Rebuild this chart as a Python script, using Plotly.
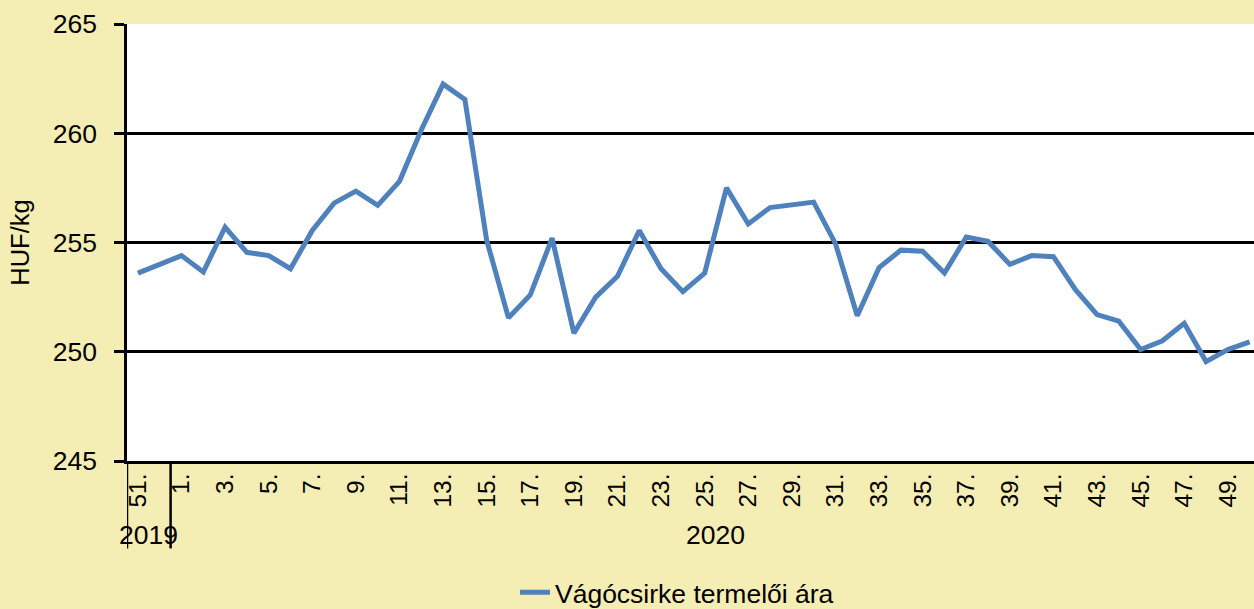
import plotly.graph_objects as go

# Week categories (2019: 51-52, 2020: 1-50)
weeks_2019 = ["51.", "52."]
weeks_2020 = [f"{i}." for i in range(1, 51)]
categories = weeks_2019 + weeks_2020
years = ["2019", "2020"]

# Vágócsirke termelői ára (HUF/kg)
prices = [
    253.6, 254.0,
    254.4, 253.65, 255.7, 254.55, 254.4, 253.8, 255.55, 256.8, 257.35, 256.7,
    257.8, 260.15, 262.25, 261.55, 255.1, 251.55, 252.6, 255.2, 250.85, 252.5,
    253.45, 255.55, 253.8, 252.75, 253.6, 257.5, 255.85, 256.6, 256.75, 256.85,
    254.95, 251.65, 253.85, 254.65, 254.6, 253.6, 255.25, 255.05, 254.0, 254.4,
    254.35, 252.85, 251.7, 251.4, 250.1, 250.5, 251.3, 249.55, 250.1, 250.45,
]

series_name = "Vágócsirke termelői ára"
y_title = "HUF/kg"

FONT = "Arial, Liberation Sans, sans-serif"
BG = "#F4EDB4"

fig = go.Figure()
fig.add_trace(go.Scatter(
    x=categories, y=prices, mode="lines", name=series_name,
    line=dict(color="#4F81BD", width=5),
))

n19 = len(weeks_2019)

fig.update_layout(
    width=1254, height=609,
    paper_bgcolor=BG, plot_bgcolor="white",
    margin=dict(l=127, r=0, t=24, b=148, autoexpand=False),
    font=dict(family=FONT, size=26, color="black"),
    showlegend=True,
    legend=dict(orientation="h", x=0.488, xanchor="center",
                yref="container", y=0.027, yanchor="middle",
                font=dict(size=26.5), bgcolor="rgba(0,0,0,0)"),
    xaxis=dict(
        type="category", categoryorder="array", categoryarray=categories,
        range=[-0.5, 51.2], automargin=False,
        tickmode="array", tickvals=categories[::2], ticktext=categories[::2],
        tickangle=-90, tickfont=dict(size=24.5),
        showgrid=False, showline=True, linecolor="black", linewidth=2.5,
        ticks="", zeroline=False,
    ),
    yaxis=dict(
        range=[245, 265], tickvals=[245, 250, 255, 260, 265], automargin=False,
        showgrid=True, gridcolor="black", gridwidth=2.5,
        showline=True, linecolor="black", linewidth=2.5,
        ticks="outside", ticklen=10, tickcolor="black", tickwidth=2.5,
        ticklabelstandoff=12, tickfont=dict(size=26.5),
        title=dict(text=y_title, font=dict(size=25.5), standoff=16),
        zeroline=False,
    ),
)

# Group dividers for the two-level (week / year) axis
for xpos in [-0.5, n19 - 0.5]:
    fig.add_shape(type="line", xref="x", yref="paper", x0=xpos, x1=xpos,
                  y0=0, y1=-0.2, line=dict(color="black", width=2.5))

# Year labels
fig.add_annotation(text=years[0], xref="x", yref="paper", x=(n19 - 1) / 2, y=-0.17,
                   showarrow=False, font=dict(size=26.5), yanchor="middle")
fig.add_annotation(text=years[1], xref="x", yref="paper", x=(n19 - 0.5 + 51.5) / 2, y=-0.17,
                   showarrow=False, font=dict(size=26.5), yanchor="middle")

fig.write_html("out.html", config={"displayModeBar": False},
               post_script="document.body.style.margin='0';")
